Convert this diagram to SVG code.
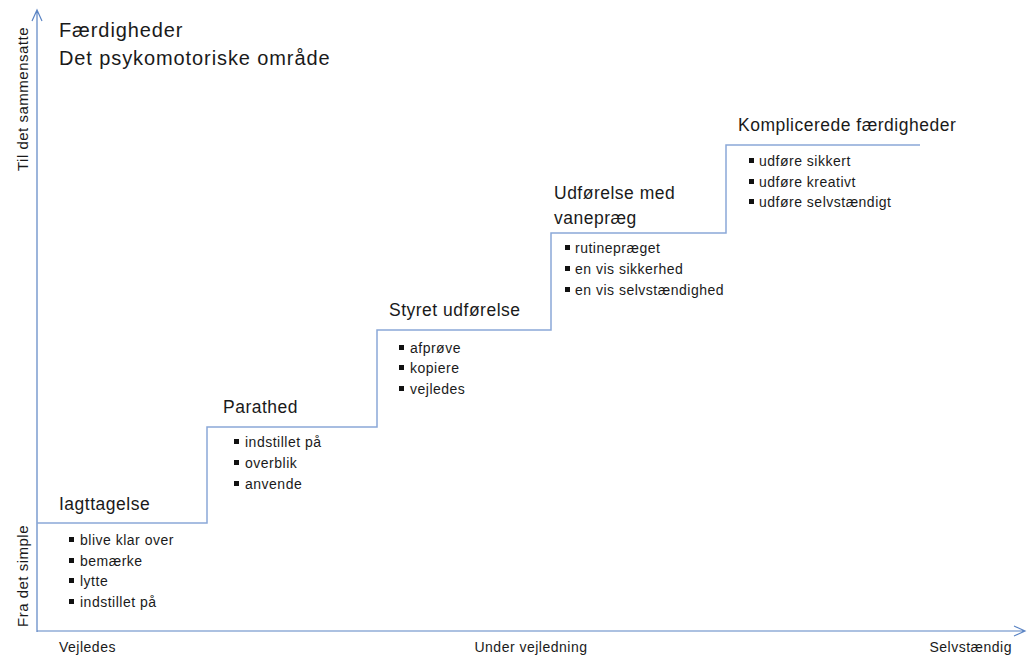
<svg xmlns="http://www.w3.org/2000/svg" width="1027" height="660" viewBox="0 0 1027 660">
<style>
text{font-family:"Liberation Sans",Arial,sans-serif;fill:#1a1a1a}
.title{font-size:20px;letter-spacing:0.9px}
.head{font-size:17.5px;letter-spacing:0.5px}
.item{font-size:14px;letter-spacing:0.5px}
.lab{font-size:14px;letter-spacing:0.5px}
.vlab{font-size:15px;letter-spacing:0.5px}
.axis{stroke:#5b84c4;stroke-width:1.2;fill:none}
.stair{stroke:#8aa8d8;stroke-width:1.5;fill:none}
.b{fill:#111}
</style>
<rect width="1027" height="660" fill="#fff"/>
<g id="connectors">
<path class="axis" d="M37,632 V10 M32,21 L37,10 L42,21"/>
<path class="axis" d="M37,631 H1025 M1014,626 L1025,631 L1014,636"/>
<path class="stair" d="M37,523 H207 V427 H377 V330 H551 V233 H726 V145 H920"/>
</g>
<g id="title">
<text class="title" x="59" y="37">Færdigheder</text>
<text class="title" x="59" y="65">Det psykomotoriske område</text>
</g>
<g id="axis-labels">
<text class="vlab" transform="translate(28,99) rotate(-90)" text-anchor="middle">Til det sammensatte</text>
<text class="vlab" transform="translate(28,576) rotate(-90)" text-anchor="middle">Fra det simple</text>
<text class="lab" x="59" y="652">Vejledes</text>
<text class="lab" x="531" y="652" text-anchor="middle">Under vejledning</text>
<text class="lab" x="1012" y="652" text-anchor="end">Selvstændig</text>
</g>
<g id="step1">
<text class="head" x="59" y="510">Iagttagelse</text>
<rect class="b" x="69" y="537" width="5" height="5"/><text class="item" x="80" y="545">blive klar over</text>
<rect class="b" x="69" y="558" width="5" height="5"/><text class="item" x="80" y="566">bemærke</text>
<rect class="b" x="69" y="578" width="5" height="5"/><text class="item" x="80" y="586">lytte</text>
<rect class="b" x="69" y="599" width="5" height="5"/><text class="item" x="80" y="607">indstillet på</text>
</g>
<g id="step2">
<text class="head" x="223" y="413">Parathed</text>
<rect class="b" x="234" y="439" width="5" height="5"/><text class="item" x="245" y="447">indstillet på</text>
<rect class="b" x="234" y="460" width="5" height="5"/><text class="item" x="245" y="468">overblik</text>
<rect class="b" x="234" y="481" width="5" height="5"/><text class="item" x="245" y="489">anvende</text>
</g>
<g id="step3">
<text class="head" x="389" y="316">Styret udførelse</text>
<rect class="b" x="399" y="345" width="5" height="5"/><text class="item" x="410" y="353">afprøve</text>
<rect class="b" x="399" y="365" width="5" height="5"/><text class="item" x="410" y="373">kopiere</text>
<rect class="b" x="399" y="386" width="5" height="5"/><text class="item" x="410" y="394">vejledes</text>
</g>
<g id="step4">
<text class="head" x="554" y="199">Udførelse med</text>
<text class="head" x="554" y="224">vanepræg</text>
<rect class="b" x="565" y="245" width="5" height="5"/><text class="item" x="575" y="253">rutinepræget</text>
<rect class="b" x="565" y="266" width="5" height="5"/><text class="item" x="575" y="274">en vis sikkerhed</text>
<rect class="b" x="565" y="287" width="5" height="5"/><text class="item" x="575" y="295">en vis selvstændighed</text>
</g>
<g id="step5">
<text class="head" x="738" y="131">Komplicerede færdigheder</text>
<rect class="b" x="749" y="158" width="5" height="5"/><text class="item" x="759" y="166">udføre sikkert</text>
<rect class="b" x="749" y="179" width="5" height="5"/><text class="item" x="759" y="187">udføre kreativt</text>
<rect class="b" x="749" y="199" width="5" height="5"/><text class="item" x="759" y="207">udføre selvstændigt</text>
</g>
</svg>
